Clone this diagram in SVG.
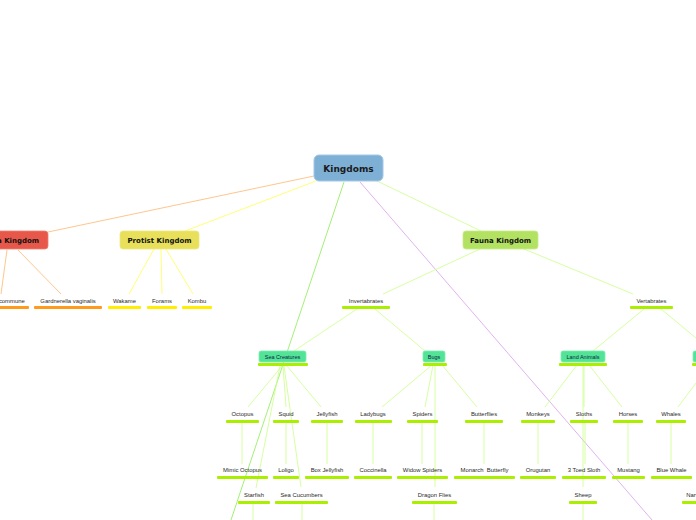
<svg xmlns="http://www.w3.org/2000/svg" width="696" height="520" viewBox="0 0 696 520">
<defs>
<style>
.t{font-family:"Liberation Sans",Arial,sans-serif;font-size:5.9px;fill:#2a2a2a;text-anchor:middle}
.k{font-family:"DejaVu Sans","Liberation Sans",sans-serif;font-weight:bold;font-size:7px;fill:#111;text-anchor:middle}
.kk{font-family:"DejaVu Sans","Liberation Sans",sans-serif;font-weight:bold;font-size:9px;fill:#1a1a1a;text-anchor:middle}
.bt{font-family:"Liberation Sans",Arial,sans-serif;font-size:5.5px;fill:#124;text-anchor:middle}
.ug{fill:#aaee00}
.uo{fill:#ff9a1a}
.uy{fill:#ffee00}
.bx{fill:#52e397;stroke:#7aefb0;stroke-width:0.8}
.cg{stroke:#ccff88;stroke-width:0.8;fill:none}
.cg2{stroke:#99ee66;stroke-width:0.9;fill:none}
.co{stroke:#ffc080;stroke-width:0.9;fill:none}
.cy{stroke:#ffff66;stroke-width:0.9;fill:none}
.cp{stroke:#ddaaee;stroke-width:0.9;fill:none}
</style>
</defs>
<g id="connectors">
<line class="co" x1="314" y1="176" x2="48" y2="232"/>
<line class="cy" x1="316" y1="181" x2="185" y2="231"/>
<line class="cg" x1="377" y1="181" x2="481" y2="231"/>
<line class="cg2" x1="344" y1="182" x2="231" y2="520"/>
<line class="cp" x1="360" y1="182" x2="652" y2="520"/>
<line class="co" x1="7" y1="250" x2="1" y2="294"/>
<line class="co" x1="18" y1="250" x2="61" y2="294"/>
<line class="cy" x1="154" y1="249" x2="129" y2="294"/>
<line class="cy" x1="161" y1="249" x2="162" y2="294"/>
<line class="cy" x1="166" y1="249" x2="193" y2="294"/>
<line class="cg" x1="480" y1="249" x2="383" y2="294"/>
<line class="cg" x1="524" y1="249" x2="633" y2="294"/>
<line class="cg" x1="357" y1="309" x2="294" y2="351"/>
<line class="cg" x1="375" y1="309" x2="425" y2="351"/>
<line class="cg" x1="644" y1="309" x2="593" y2="351"/>
<line class="cg" x1="661" y1="309" x2="696" y2="338"/>
<line class="cg" x1="282" y1="366" x2="248" y2="407"/>
<line class="cg" x1="283" y1="366" x2="286" y2="407"/>
<line class="cg" x1="287" y1="366" x2="321" y2="407"/>
<line class="cg" x1="280" y1="366" x2="256" y2="488"/>
<line class="cg" x1="284" y1="366" x2="301" y2="487"/>
<line class="cg" x1="242" y1="423" x2="242" y2="464"/>
<line class="cg" x1="286" y1="423" x2="286" y2="464"/>
<line class="cg" x1="327" y1="423" x2="327" y2="464"/>
<line class="cg" x1="253" y1="504" x2="253" y2="520"/>
<line class="cg" x1="302" y1="504" x2="302" y2="520"/>
<line class="cg" x1="432" y1="365" x2="382" y2="407"/>
<line class="cg" x1="433" y1="365" x2="425" y2="407"/>
<line class="cg" x1="442" y1="365" x2="477" y2="407"/>
<line class="cg" x1="435" y1="365" x2="435" y2="487"/>
<line class="cg" x1="373" y1="423" x2="373" y2="464"/>
<line class="cg" x1="422" y1="423" x2="422" y2="464"/>
<line class="cg" x1="484" y1="423" x2="484" y2="464"/>
<line class="cg" x1="434" y1="504" x2="434" y2="520"/>
<line class="cg" x1="577" y1="365" x2="545" y2="407"/>
<line class="cg" x1="584" y1="365" x2="584" y2="407"/>
<line class="cg" x1="583" y1="365" x2="583" y2="487"/>
<line class="cg" x1="589" y1="365" x2="622" y2="407"/>
<line class="cg" x1="538" y1="423" x2="538" y2="464"/>
<line class="cg" x1="585" y1="423" x2="585" y2="464"/>
<line class="cg" x1="628" y1="423" x2="628" y2="464"/>
<line class="cg" x1="671" y1="423" x2="671" y2="464"/>
<line class="cg" x1="583" y1="504" x2="583" y2="520"/>
<line class="cg" x1="696" y1="383" x2="678" y2="407"/>
</g>
<g id="kingdoms"><rect x="314" y="155" width="69" height="26" rx="5" fill="#7eb0d6" stroke="#a4c8e6" stroke-width="1"/><text class="kk" x="348.5" y="172">Kingdoms</text></g>
<g id="bacteria"><rect x="-40" y="231" width="88" height="18" rx="3" fill="#e8584a" stroke="#f08070" stroke-width="0.8"/><text class="k" x="4" y="243">Bacteria Kingdom</text></g>
<g id="protist"><rect x="120" y="231" width="79" height="18" rx="3" fill="#e8df5a" stroke="#f0e880" stroke-width="0.8"/><text class="k" x="159.5" y="243">Protist Kingdom</text></g>
<g id="fauna"><rect x="463" y="231" width="75" height="18" rx="3" fill="#b3e262" stroke="#c8ec88" stroke-width="0.8"/><text class="k" x="500.5" y="243">Fauna Kingdom</text></g>
<g id="commune"><rect class="uo" x="-30" y="306" width="59" height="3" rx="1"/><text class="t" x="-8" y="303">Schizophyllum commune</text></g>
<g id="gardnerella"><rect class="uo" x="34" y="306" width="68" height="3" rx="1"/><text class="t" x="68" y="303">Gardnerella vaginalis</text></g>
<g id="wakame"><rect class="uy" x="108" y="306" width="33" height="3" rx="1"/><text class="t" x="124.5" y="303">Wakame</text></g>
<g id="forams"><rect class="uy" x="147" y="306" width="30" height="3" rx="1"/><text class="t" x="162" y="303">Forams</text></g>
<g id="kombu"><rect class="uy" x="182" y="306" width="30" height="3" rx="1"/><text class="t" x="197" y="303">Kombu</text></g>
<g id="invertabrates"><rect class="ug" x="342" y="306" width="48" height="3" rx="1"/><text class="t" x="366" y="303">Invertabrates</text></g>
<g id="vertabrates"><rect class="ug" x="630" y="306" width="43" height="3" rx="1"/><text class="t" x="651.5" y="303">Vertabrates</text></g>
<g id="sea-creatures"><rect class="bx" x="259" y="351" width="47" height="11" rx="2"/><rect class="ug" x="258" y="363" width="50" height="3" rx="1"/><text class="bt" x="282.5" y="358.5">Sea Creatures</text></g>
<g id="bugs"><rect class="bx" x="423" y="351" width="22" height="11" rx="2"/><rect class="ug" x="423" y="363" width="24" height="3" rx="1"/><text class="bt" x="434" y="358.5">Bugs</text></g>
<g id="land-animals"><rect class="bx" x="561" y="351" width="44" height="11" rx="2"/><rect class="ug" x="559" y="363" width="48" height="3" rx="1"/><text class="bt" x="583" y="358.5">Land Animals</text></g>
<g id="sea-animals"><rect class="bx" x="693" y="351" width="44" height="11" rx="2"/><rect class="ug" x="692" y="363" width="48" height="3" rx="1"/><text class="bt" x="715" y="358.5">Sea Animals</text></g>
<g id="octopus"><rect class="ug" x="226" y="420" width="33" height="3" rx="1"/><text class="t" x="242.5" y="416">Octopus</text></g>
<g id="squid"><rect class="ug" x="273" y="420" width="26" height="3" rx="1"/><text class="t" x="286" y="416">Squid</text></g>
<g id="jellyfish"><rect class="ug" x="311" y="420" width="32" height="3" rx="1"/><text class="t" x="327" y="416">Jellyfish</text></g>
<g id="ladybugs"><rect class="ug" x="355" y="420" width="37" height="3" rx="1"/><text class="t" x="373" y="416">Ladybugs</text></g>
<g id="spiders"><rect class="ug" x="407" y="420" width="31" height="3" rx="1"/><text class="t" x="422.5" y="416">Spiders</text></g>
<g id="butterflies"><rect class="ug" x="465" y="420" width="38" height="3" rx="1"/><text class="t" x="484" y="416">Butterflies</text></g>
<g id="monkeys"><rect class="ug" x="521" y="420" width="34" height="3" rx="1"/><text class="t" x="538" y="416">Monkeys</text></g>
<g id="sloths"><rect class="ug" x="570" y="420" width="28" height="3" rx="1"/><text class="t" x="584" y="416">Sloths</text></g>
<g id="horses"><rect class="ug" x="613" y="420" width="30" height="3" rx="1"/><text class="t" x="628" y="416">Horses</text></g>
<g id="whales"><rect class="ug" x="656" y="420" width="30" height="3" rx="1"/><text class="t" x="671" y="416">Whales</text></g>
<g id="mimic-octopus"><rect class="ug" x="217" y="476" width="51" height="3" rx="1"/><text class="t" x="242.5" y="472">Mimic Octopus</text></g>
<g id="loligo"><rect class="ug" x="273" y="476" width="26" height="3" rx="1"/><text class="t" x="286" y="472">Loligo</text></g>
<g id="box-jellyfish"><rect class="ug" x="305" y="476" width="44" height="3" rx="1"/><text class="t" x="327" y="472">Box Jellyfish</text></g>
<g id="coccinella"><rect class="ug" x="354" y="476" width="38" height="3" rx="1"/><text class="t" x="373" y="472">Coccinella</text></g>
<g id="widow-spiders"><rect class="ug" x="397" y="476" width="51" height="3" rx="1"/><text class="t" x="422.5" y="472">Widow Spiders</text></g>
<g id="monarch"><rect class="ug" x="454" y="476" width="61" height="3" rx="1"/><text class="t" x="484.5" y="472" xml:space="preserve">Monarch  Butterfly</text></g>
<g id="orugutan"><rect class="ug" x="520" y="476" width="36" height="3" rx="1"/><text class="t" x="538" y="472">Orugutan</text></g>
<g id="toed-sloth"><rect class="ug" x="562" y="476" width="44" height="3" rx="1"/><text class="t" x="584" y="472">3 Toed Sloth</text></g>
<g id="mustang"><rect class="ug" x="612" y="476" width="33" height="3" rx="1"/><text class="t" x="628.5" y="472">Mustang</text></g>
<g id="blue-whale"><rect class="ug" x="651" y="476" width="41" height="3" rx="1"/><text class="t" x="671.5" y="472">Blue Whale</text></g>
<g id="starfish"><rect class="ug" x="238" y="501" width="32" height="3" rx="1"/><text class="t" x="254" y="497">Starfish</text></g>
<g id="sea-cucumbers"><rect class="ug" x="275" y="501" width="53" height="3" rx="1"/><text class="t" x="301.5" y="497">Sea Cucumbers</text></g>
<g id="dragon-flies"><rect class="ug" x="412" y="501" width="45" height="3" rx="1"/><text class="t" x="434.5" y="497">Dragon Flies</text></g>
<g id="sheep"><rect class="ug" x="569" y="501" width="28" height="3" rx="1"/><text class="t" x="583" y="497">Sheep</text></g>
<g id="narwhal"><rect class="ug" x="682" y="501" width="30" height="3" rx="1"/><text class="t" x="697" y="497">Narwhal</text></g>
</svg>
